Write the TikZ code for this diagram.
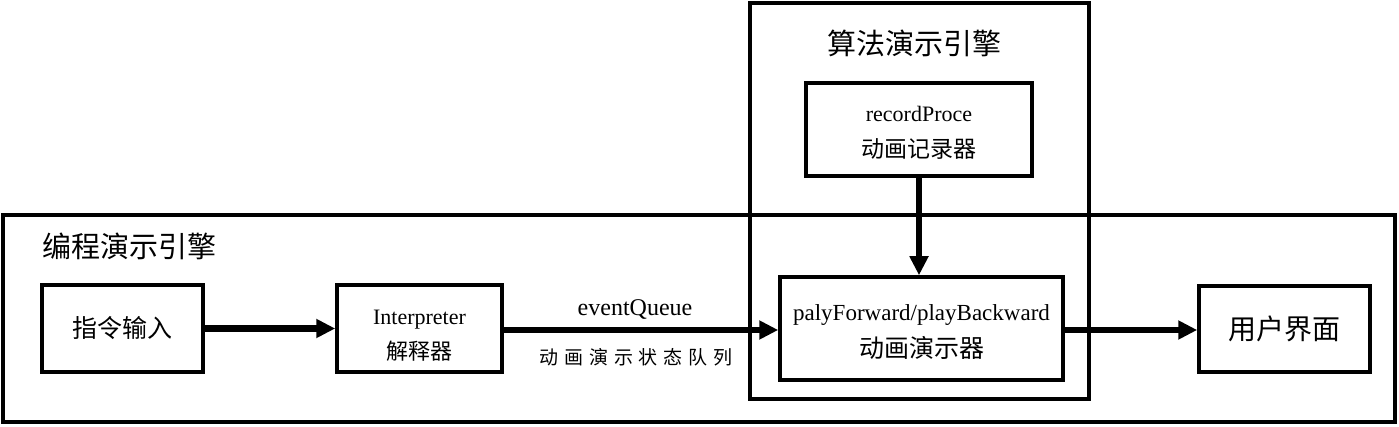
\documentclass[tikz,border=0pt]{standalone}
\usepackage{fontspec}
\setmainfont{Liberation Serif}
\newfontfamily\cjk{Noto Sans CJK SC}
\usetikzlibrary{arrows.meta}
\newcommand\cjkgap{\hspace{5.8pt}}
\begin{document}
\begin{tikzpicture}[x=1pt,y=-1pt,
  frame/.style={draw, line width=3.5pt, inner sep=0pt},
  boxnode/.style={draw, line width=3.5pt, inner sep=0pt, align=center},
  txt/.style={inner sep=0pt, anchor=base},
  en/.style={txt, font={\fontsize{22}{22}\selectfont}},
  flow/.style={line width=6pt, -{Triangle[length=19pt,width=18pt]}},
  title/.style={inner sep=0pt, font={\cjk\fontsize{29}{29}\selectfont}},
]
\useasboundingbox (0,0) rectangle (1399,427);
% group frames
\node[frame, minimum width=1392pt, minimum height=207pt] (prog) at (699,318.5) {};
\node[frame, minimum width=339pt, minimum height=396pt] (algo) at (919.5,201) {};
% titles
\node[title, anchor=west] (progtitle) at (42,246) {编程演示引擎};
\node[title] (algotitle) at (914.5,43) {算法演示引擎};
% boxes
\node[boxnode, minimum width=161pt, minimum height=87pt] (cmd) at (122.5,328.5)
  {{\cjk\fontsize{25}{25}\selectfont 指令输入}};
\node[boxnode, minimum width=165pt, minimum height=87pt] (interp) at (419.5,328.5) {};
\node[en] (interpen) at (419.5,325) {Interpreter};
\node[txt, font={\cjk\fontsize{22}{22}\selectfont}] (interpcn) at (419.5,359.5) {解释器};
\node[boxnode, minimum width=283pt, minimum height=103pt] (player) at (921.5,328.5) {};
\node[txt, font={\fontsize{23}{23}\selectfont}] (playeren) at (921.5,320) {palyForward/playBackward};
\node[txt, font={\cjk\fontsize{25}{25}\selectfont}] (playercn) at (921.5,357.5) {动画演示器};
\node[boxnode, minimum width=171pt, minimum height=86pt] (ui) at (1284.5,329)
  {{\cjk\fontsize{28}{28}\selectfont 用户界面}};
\node[boxnode, minimum width=226pt, minimum height=93pt] (rec) at (919,129.5) {};
\node[en] (recen) at (919,122) {recordProce};
\node[txt, font={\cjk\fontsize{23}{23}\selectfont}] (reccn) at (919,157.5) {动画记录器};
% connectors
\draw[flow] (cmd.east) -- (interp.west);
\draw[flow] (interp.east |- 0,330) -- (player.west |- 0,330);
\draw[flow] (player.east |- 0,330) -- (ui.west |- 0,330);
\draw[flow] (rec.south) -- (rec.south |- player.north);
% edge labels
\node[inner sep=0pt, font={\fontsize{24}{24}\selectfont}] (eq) at (635,310) {eventQueue};
\node[inner sep=0pt, font={\cjk\fontsize{19}{19}\selectfont}] (eqcn) at (636,357)
  {动\cjkgap 画\cjkgap 演\cjkgap 示\cjkgap 状\cjkgap 态\cjkgap 队\cjkgap 列};
\end{tikzpicture}
\end{document}
